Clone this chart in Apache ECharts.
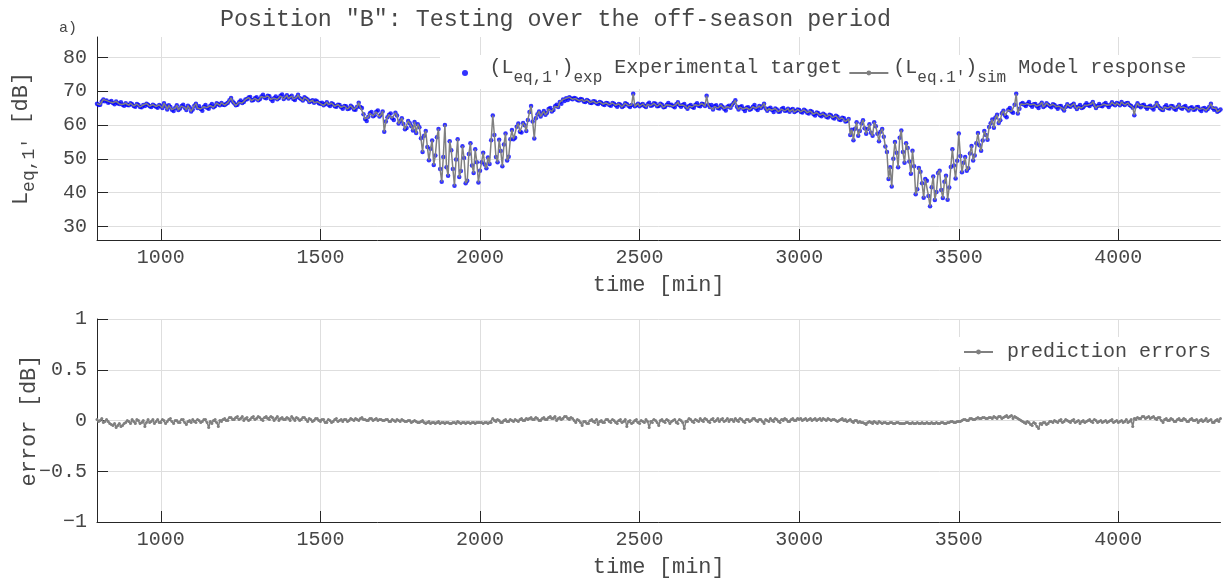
<!DOCTYPE html>
<html>
<head>
<meta charset="utf-8">
<script src="https://cdn.jsdelivr.net/npm/echarts@6/dist/echarts.min.js"></script>
<style>
  html, body { margin: 0; padding: 0; background: #ffffff; }
  #chart { width: 1226px; height: 583px; }
</style>
</head>
<body>
<div id="chart"></div>
<script>
// Sampling grid of the record (minutes)
const START_MIN = 800;
const STEP_MIN = 5;

// Tick positions
const timeTicks = [1000, 1500, 2000, 2500, 3000, 3500, 4000];
const levelTicks = [30, 40, 50, 60, 70, 80];
const errorTicks = [-1, -0.5, 0, 0.5, 1];

// Measured 1-minute equivalent level, one value every 5 min from 800 to 4320 min [dB]
// (each row covers 100 min)
const expLevels = [
  66.3,65.9, 66.0,66.9, 67.5,67.0, 67.2,66.6, 66.8,67.1, 66.5,66.1, 66.9,66.4, 66.2,66.7, 66.0,65.7, 66.4,65.9,
  65.8,66.4, 66.1,65.6, 65.4,66.2, 65.9,65.3, 65.2,65.9, 65.6,66.3, 66.0,65.5, 65.3,66.0, 65.7,65.4, 65.1,65.9,
  65.5,65.0, 66.4,65.6, 64.6,65.8, 65.3,64.5, 64.1,65.0, 65.8,64.4, 64.9,65.6, 66.0,65.1, 64.4,65.7, 65.2,64.0,
  64.6,65.7, 66.3,65.0, 65.5,64.7, 64.2,65.4, 65.9,65.1, 64.8,65.7, 66.2,65.2, 65.6,66.4, 66.1,65.8, 66.5,66.0,
  65.9,66.3, 66.6,67.3, 68.0,66.9, 66.4,65.8, 66.0,66.7, 67.2,66.5, 66.8,67.5, 67.6,68.1, 68.3,67.2, 67.4,67.9,
  68.2,67.3, 67.6,68.4, 68.9,68.1, 67.9,68.6, 68.5,67.6, 67.1,67.9, 68.4,67.6, 68.0,68.6, 69.0,67.7, 68.2,68.8,
  67.8,68.3, 68.6,67.7, 67.4,68.2, 68.9,68.0, 67.6,67.2, 68.2,67.8, 67.5,66.8, 67.0,67.3, 66.6,67.2, 66.9,66.4,
  66.3,66.6, 65.8,66.2, 66.7,66.0, 65.6,66.4, 66.1,65.5, 65.4,66.0, 65.9,65.2, 64.8,65.6, 65.5,64.7, 64.9,65.7,
  65.2,64.6, 64.5,65.4, 66.6,65.3, 65.0,63.2, 61.8,61.2, 62.4,63.5, 63.8,62.6, 62.9,63.9, 64.3,62.5, 63.1,64.0,
  58.0,61.0, 62.3,63.0, 63.4,62.0, 61.5,63.6, 62.8,60.4, 61.2,62.0, 60.3,58.7, 59.1,61.2, 60.5,59.6, 58.4,60.9,
  57.6,60.2, 59.3,56.1, 52.0,56.8, 58.2,53.5, 49.6,53.0, 55.4,48.2, 51.0,56.4, 58.8,47.0, 43.2,50.5, 60.0,47.5,
  45.0,55.2, 52.5,47.0, 42.0,49.8, 55.8,44.6, 46.4,53.7, 50.2,42.8, 43.5,51.4, 54.6,48.0, 45.8,52.8, 49.0,43.0,
  46.5,49.0, 51.8,48.3, 47.2,50.4, 48.5,55.5, 62.8,57.0, 50.5,49.0, 55.6,52.3, 47.8,54.2, 57.5,49.5, 50.6,55.8,
  58.5,55.8, 56.2,59.5, 60.4,58.0, 57.8,60.6, 59.9,58.2, 61.5,63.8, 65.6,61.0, 56.0,62.0, 63.2,64.0, 62.5,63.4,
  64.1,63.0, 63.6,64.7, 65.0,64.0, 64.4,65.5, 66.0,65.3, 66.8,66.3, 67.5,67.1, 67.9,67.4, 68.2,67.8, 67.6,68.0,
  67.8,67.4, 67.2,67.7, 67.5,66.9, 66.8,67.4, 67.1,66.6, 66.5,67.0, 66.9,66.4, 66.2,66.8, 66.6,66.1, 65.9,66.5,
  66.4,65.9, 65.7,66.5, 66.3,65.8, 65.4,66.2, 66.0,65.3, 65.6,66.4, 66.2,65.7, 65.3,65.9, 69.2,65.5, 65.8,66.3,
  65.5,66.0, 66.2,65.6, 65.3,66.1, 66.6,65.7, 65.8,66.4, 66.3,65.5, 65.6,66.3, 66.0,65.2, 65.4,66.0, 66.5,65.8,
  66.0,65.5, 65.2,66.1, 66.7,65.8, 65.4,65.9, 66.2,65.4, 64.8,65.6, 65.9,65.3, 65.1,66.0, 66.4,65.7, 65.5,66.3,
  66.1,65.6, 68.6,66.0, 65.3,65.9, 64.6,65.5, 65.8,65.0, 64.9,65.8, 65.4,64.8, 64.3,65.4, 65.7,65.1, 66.0,66.6,
  67.3,65.4, 64.6,65.3, 65.5,64.7, 64.1,65.1, 65.2,64.5, 64.8,65.4, 65.9,64.9, 64.4,65.6, 65.0,65.5, 66.3,64.9,
  64.2,64.8, 65.1,64.4, 63.8,64.9, 64.6,63.9, 64.0,64.7, 65.0,64.2, 64.3,64.8, 63.9,64.5, 64.7,63.8, 64.1,64.6,
  64.4,63.9, 63.7,64.5, 64.2,63.6, 63.4,64.1, 63.9,63.2, 62.8,63.7, 63.5,62.9, 62.6,63.3, 63.0,62.4, 62.2,63.0,
  62.8,62.2, 61.9,62.7, 62.4,61.6, 61.5,62.1, 62.0,61.0, 61.2,61.8, 57.0,58.6, 55.5,58.9, 60.8,56.8, 58.2,60.4,
  61.4,59.0, 57.4,58.8, 60.2,57.7, 56.8,60.8, 59.6,57.4, 55.2,58.0, 58.8,56.5, 53.6,52.0, 44.0,47.5, 41.8,50.0,
  55.0,51.8, 47.5,56.2, 58.4,52.0, 48.8,54.6, 53.2,49.2, 45.6,52.4, 47.8,39.5, 41.0,47.3, 46.2,42.8, 38.5,44.0,
  43.5,39.0, 36.0,41.6, 44.8,37.8, 40.2,45.8, 46.5,40.8, 38.4,43.2, 45.0,37.9, 41.5,47.6, 52.8,48.0, 44.2,49.4,
  57.5,50.8, 46.0,48.8, 50.5,46.5, 47.2,51.6, 53.8,49.5, 51.0,54.6, 57.6,54.0, 52.4,55.4, 58.2,57.0, 55.6,59.4,
  60.5,61.6, 59.2,62.2, 63.0,60.6, 61.4,63.5, 64.2,62.8, 62.3,64.5, 65.0,64.0, 63.6,66.0, 69.2,63.4, 64.8,66.2,
  66.5,66.0, 65.6,66.3, 66.8,65.9, 65.4,66.1, 66.2,65.5, 65.0,66.0, 66.6,65.3, 65.7,66.4, 66.0,65.6, 65.2,66.1,
  65.9,65.4, 64.8,65.5, 65.6,64.9, 64.3,65.3, 66.1,65.6, 65.4,65.9, 66.3,65.4, 64.7,65.4, 65.9,65.0, 65.2,65.8,
  66.4,65.9, 65.6,66.2, 66.8,65.8, 65.0,65.6, 66.2,65.7, 65.5,66.1, 66.5,65.8, 65.3,66.0, 66.7,66.1, 65.8,66.5,
  66.3,65.8, 66.8,66.2, 65.9,66.4, 66.5,65.9, 65.6,65.1, 62.9,65.5, 66.4,65.7, 65.2,65.8, 66.0,65.3, 64.8,65.4,
  65.7,65.1, 64.6,65.5, 66.5,65.6, 65.0,64.6, 64.4,65.3, 65.8,65.0, 64.9,65.6, 65.5,64.8, 64.5,65.3, 66.0,65.1,
  64.8,65.3, 65.6,64.9, 64.3,65.0, 65.2,64.5, 64.6,65.2, 65.3,64.6, 64.1,64.9, 65.0,64.3, 64.7,65.4, 66.3,65.0,
  64.5,64.9, 63.9,64.2, 64.6
];

// Prediction error (target minus model) at the same instants [dB]
const predErrors = [
   0.01,-0.01,  0.00, 0.02, -0.02,-0.01,  0.01,-0.01, -0.03,-0.04, -0.05,-0.03, -0.07,-0.05, -0.03,-0.06, -0.05,-0.03, -0.02, 0.00,
  -0.01,-0.03,  0.01,-0.01, -0.03, 0.01,  0.00,-0.03, -0.02, 0.00, -0.06,-0.02,  0.01,-0.02, -0.01, 0.01, -0.03,-0.01,  0.01,-0.02,
  -0.02, 0.01,  0.00,-0.03, -0.01, 0.01,  0.02,-0.01, -0.03, 0.00,  0.00,-0.02, -0.02, 0.01,  0.01,-0.02, -0.04,-0.01,  0.00,-0.02,
   0.01,-0.01, -0.02, 0.01,  0.00,-0.02, -0.01, 0.01,  0.01,-0.02, -0.07,-0.01, -0.03, 0.00,  0.01,-0.02, -0.06, 0.00, -0.01, 0.01,
   0.02, 0.00,  0.00, 0.03,  0.03, 0.01,  0.01, 0.03,  0.04, 0.01,  0.02, 0.04,  0.00, 0.02,  0.03, 0.00,  0.01, 0.03,  0.04, 0.01,
   0.02, 0.04,  0.03, 0.01,  0.00, 0.03,  0.04, 0.02,  0.01, 0.04,  0.03, 0.00,  0.02, 0.04,  0.00, 0.02,  0.03, 0.01,  0.01, 0.03,
   0.02, 0.00,  0.04, 0.02,  0.00, 0.03,  0.02, 0.00,  0.01, 0.03,  0.03, 0.01, -0.01, 0.02,  0.01,-0.01,  0.00, 0.02,  0.02, 0.00,
  -0.01, 0.01,  0.01,-0.02, -0.02, 0.01,  0.00,-0.02, -0.01, 0.01,  0.02,-0.01,  0.00, 0.01, -0.01, 0.01,  0.01,-0.01,  0.00, 0.02,
   0.01, 0.00,  0.02, 0.01,  0.00, 0.02,  0.03, 0.01,  0.01, 0.00,  0.00, 0.02,  0.02, 0.00,  0.01, 0.02,  0.00, 0.01,  0.01, 0.00,
   0.00, 0.01,  0.01,-0.01, -0.01, 0.01,  0.00,-0.01,  0.01, 0.00, -0.01, 0.01,  0.00,-0.01, -0.01, 0.00,  0.00,-0.02, -0.01, 0.00,
  -0.01,-0.02, -0.02,-0.01,  0.00,-0.02, -0.03,-0.02, -0.01,-0.03, -0.02,-0.02, -0.03,-0.02, -0.01,-0.03, -0.02,-0.02, -0.03,-0.02,
  -0.02,-0.03, -0.03,-0.02, -0.02,-0.03, -0.01,-0.02, -0.03,-0.02, -0.02,-0.03, -0.02,-0.02, -0.03,-0.02, -0.02,-0.03, -0.02,-0.02,
  -0.02,-0.02, -0.03,-0.02, -0.02,-0.03, -0.02,-0.02,  0.02, 0.00, -0.01, 0.01,  0.00,-0.02, -0.02, 0.00,  0.01,-0.01, -0.01, 0.01,
   0.00,-0.01,  0.01, 0.00, -0.01, 0.01,  0.02, 0.00,  0.00, 0.02,  0.01, 0.02,  0.03, 0.01,  0.01, 0.03,  0.02, 0.00,  0.00, 0.02,
   0.03, 0.01,  0.01, 0.03,  0.04, 0.02,  0.02, 0.04,  0.00, 0.02,  0.03, 0.01,  0.02, 0.04,  0.04, 0.02,  0.01, 0.03,  0.02, 0.00,
  -0.02, 0.01,  0.00,-0.02, -0.05,-0.01, -0.01,-0.03, -0.03, 0.00,  0.01,-0.01, -0.02, 0.01, -0.04,-0.01,  0.00,-0.02, -0.02, 0.01,
   0.01,-0.01, -0.02, 0.01,  0.00,-0.02, -0.03, 0.00,  0.01,-0.02, -0.01, 0.01, -0.06,-0.01,  0.00,-0.03, -0.02, 0.00,  0.01,-0.02,
  -0.03, 0.00, -0.01,-0.02,  0.01,-0.01, -0.07,-0.01, -0.02, 0.01,  0.00,-0.02, -0.05, 0.00,  0.01,-0.01, -0.02, 0.01,  0.00,-0.03,
  -0.01, 0.00,  0.01,-0.02, -0.03, 0.01,  0.00,-0.02, -0.08,-0.01, -0.01, 0.02,  0.01,-0.01, -0.02, 0.01,  0.00,-0.01,  0.02, 0.00,
  -0.01, 0.02,  0.01,-0.01, -0.02, 0.01,  0.02,-0.01,  0.00, 0.02, -0.01, 0.01,  0.02,-0.01,  0.00, 0.02, -0.01, 0.01,  0.01,-0.01,
   0.02, 0.00, -0.01, 0.02,  0.01,-0.01, -0.02, 0.01,  0.01,-0.01,  0.00, 0.02,  0.02, 0.00, -0.01, 0.01,  0.01,-0.01, -0.03, 0.01,
   0.00,-0.01,  0.02, 0.00, -0.01, 0.02,  0.01,-0.01, -0.02, 0.01,  0.00, 0.02,  0.01,-0.01, -0.01, 0.01,  0.02, 0.00,  0.00, 0.02,
   0.01, 0.02,  0.00, 0.01,  0.02, 0.00,  0.01, 0.02,  0.00, 0.01,  0.02, 0.00,  0.01, 0.02,  0.00, 0.02,  0.01, 0.00,  0.02, 0.01,
   0.00, 0.01,  0.01, 0.00, -0.01, 0.00,  0.01, 0.02,  0.00, 0.01, -0.01, 0.00,  0.01,-0.01, -0.02, 0.00,  0.00,-0.02, -0.01,-0.02,
  -0.02,-0.03, -0.04,-0.02, -0.01,-0.02, -0.03,-0.01, -0.02,-0.03, -0.01,-0.02, -0.03,-0.02, -0.02,-0.03, -0.03,-0.02, -0.02,-0.03,
  -0.03,-0.02, -0.02,-0.03, -0.03,-0.03, -0.03,-0.02, -0.02,-0.03, -0.03,-0.02, -0.03,-0.03, -0.02,-0.03, -0.03,-0.02, -0.03,-0.03,
  -0.02,-0.03, -0.03,-0.02, -0.03,-0.03, -0.02,-0.03, -0.03,-0.02, -0.02,-0.03, -0.03,-0.02, -0.02,-0.01, -0.01,-0.02, -0.02,-0.01,
  -0.01,-0.01,  0.00, 0.01,  0.01, 0.00,  0.00, 0.02,  0.02, 0.01,  0.01, 0.02,  0.03, 0.02,  0.02, 0.03,  0.03, 0.02,  0.02, 0.03,
   0.03, 0.02,  0.04, 0.03,  0.02, 0.04,  0.04, 0.02,  0.03, 0.04,  0.05, 0.03,  0.04, 0.05,  0.02, 0.04,  0.03, 0.02,  0.01, 0.00,
  -0.01,-0.02, -0.03,-0.01, -0.02,-0.04, -0.05,-0.02, -0.03,-0.06, -0.08,-0.03, -0.04,-0.02, -0.02,-0.04, -0.03,-0.01, -0.01,-0.02,
   0.00,-0.01, -0.02, 0.00,  0.01,-0.02, -0.01, 0.01,  0.00,-0.01, -0.02, 0.00,  0.01,-0.02, -0.01, 0.00, -0.03,-0.01,  0.00,-0.02,
  -0.01, 0.00,  0.01,-0.01, -0.02, 0.01,  0.00,-0.02, -0.01, 0.00, -0.02,-0.01,  0.00,-0.02, -0.01, 0.00,  0.01,-0.02, -0.01, 0.00,
  -0.02,-0.01,  0.00,-0.02, -0.01, 0.01, -0.02,-0.01,  0.01,-0.06,  0.02, 0.01,  0.03, 0.02,  0.02, 0.04,  0.04, 0.02,  0.03, 0.04,
   0.02, 0.03,  0.04, 0.02,  0.01, 0.03,  0.03, 0.00, -0.02, 0.01,  0.02, 0.00,  0.00, 0.02,  0.01,-0.01, -0.01, 0.01,  0.02, 0.00,
   0.00, 0.02,  0.01,-0.01, -0.01, 0.01,  0.02, 0.00,  0.00, 0.01, -0.02, 0.00,  0.01,-0.01,  0.00, 0.02, -0.01, 0.00,  0.01,-0.02,
  -0.02, 0.00,  0.01,-0.01,  0.02
];

// Time stamps and derived traces
const timeMin = expLevels.map((_, i) => START_MIN + i * STEP_MIN);
const expPoints = expLevels.map((v, i) => [timeMin[i], v]);
// model response = target - prediction error
const simPoints = expLevels.map((v, i) => [timeMin[i], +(v - predErrors[i]).toFixed(3)]);
const errPoints = predErrors.map((v, i) => [START_MIN + i * STEP_MIN, v]);

const FONT = '"Liberation Mono", "DejaVu Sans Mono", monospace';
const TXT = '#474747';
const AXIS = '#262626';
const GRID = '#dedede';
const GREY = '#808080';
const BLUE = '#0000ff';

function fmtNum(v) { return String(v).replace('-', '\u2212'); }

function xAxisFor(gridIndex) {
  return {
    type: 'value', gridIndex, min: 800, max: 4320,
    name: 'time [min]', nameLocation: 'middle', nameGap: 34, nameMoveOverlap: false,
    nameTextStyle: { fontFamily: FONT, fontSize: 22, color: TXT },
    axisLine: { show: true, onZero: false, lineStyle: { color: AXIS, width: 1 } },
    axisTick: { show: true, inside: true, length: 11, customValues: timeTicks, lineStyle: { color: AXIS } },
    axisLabel: { customValues: timeTicks, formatter: fmtNum, fontFamily: FONT, fontSize: 20, color: TXT, margin: 8 },
    splitLine: { show: true, lineStyle: { color: GRID, width: 1 } }
  };
}

const nameRich = {
  n: { fontFamily: FONT, fontSize: 22, color: TXT, lineHeight: 30, verticalAlign: 'top' },
  s: { fontFamily: FONT, fontSize: 18, color: TXT, verticalAlign: 'top', padding: [10, 0, 0, 0] }
};
const legendRich = {
  n: { fontFamily: FONT, fontSize: 20, color: TXT, lineHeight: 30, verticalAlign: 'top' },
  s: { fontFamily: FONT, fontSize: 16, color: TXT, verticalAlign: 'top', padding: [12, 0, 0, 0] }
};

const option = {
  animation: false,
  backgroundColor: '#ffffff',
  title: [
    { text: 'Position "B": Testing over the off-season period', left: 215, top: 3,
      textStyle: { fontFamily: FONT, fontSize: 23.3, fontWeight: 'normal', color: TXT } },
    { text: 'a)', left: 54, top: 16,
      textStyle: { fontFamily: FONT, fontSize: 15, fontWeight: 'normal', color: TXT } }
  ],
  grid: [
    { left: 97, right: 5.5, top: 37, height: 203 },
    { left: 97, right: 5.5, top: 319, height: 203 }
  ],
  xAxis: [xAxisFor(0), xAxisFor(1)],
  yAxis: [
    {
      type: 'value', gridIndex: 0, min: 26, max: 86,
      name: '{n|L}{s|eq,1\'}{n| [dB]}', nameLocation: 'middle', nameRotate: 90, nameGap: 57,
      nameMoveOverlap: false,
      nameTextStyle: { rich: nameRich },
      axisLine: { show: true, lineStyle: { color: AXIS, width: 1 } },
      axisTick: { show: true, inside: true, length: 11, customValues: levelTicks, lineStyle: { color: AXIS } },
      axisLabel: { customValues: levelTicks, formatter: fmtNum, fontFamily: FONT, fontSize: 20, color: TXT, margin: 10 },
      splitLine: { show: true, lineStyle: { color: GRID, width: 1 } }
    },
    {
      type: 'value', gridIndex: 1, min: -1, max: 1, interval: 0.5,
      name: 'error [dB]', nameLocation: 'middle', nameRotate: 90, nameGap: 57,
      nameMoveOverlap: false,
      nameTextStyle: { fontFamily: FONT, fontSize: 22, color: TXT },
      axisLine: { show: true, lineStyle: { color: AXIS, width: 1 } },
      axisTick: { show: true, inside: true, length: 11, customValues: errorTicks, lineStyle: { color: AXIS } },
      axisLabel: { customValues: errorTicks, formatter: fmtNum, fontFamily: FONT, fontSize: 20, color: TXT, margin: 10 },
      splitLine: { show: true, lineStyle: { color: GRID, width: 1 } }
    }
  ],
  legend: [
    {
      data: [{ name: 'exp', icon: 'circle' }, { name: 'sim' }],
      left: 440, top: 55, orient: 'horizontal',
      padding: [3, 6, 3, 22], itemGap: 6, itemWidth: 39, itemHeight: 6,
      backgroundColor: '#ffffff', borderWidth: 0, selectedMode: false, z: 5,
      formatter: name => name === 'exp'
        ? '{n|(L}{s|eq,1\'}{n|)}{s|exp}{n| Experimental target}'
        : '{n|(L}{s|eq.1\'}{n|)}{s|sim}{n| Model response}',
      textStyle: { rich: legendRich }
    },
    {
      data: ['prediction errors'],
      left: 958, top: 337, padding: [5, 6, 5, 5],
      itemWidth: 29, itemHeight: 6, itemGap: 0,
      backgroundColor: '#ffffff', borderWidth: 0, selectedMode: false, z: 5,
      textStyle: { fontFamily: FONT, fontSize: 20, color: TXT, padding: [0, 0, 0, 9] }
    }
  ],
  series: [
    {
      name: 'exp', type: 'scatter', xAxisIndex: 0, yAxisIndex: 0,
      data: expPoints, symbol: 'circle', symbolSize: 4.5,
      itemStyle: { color: BLUE }, z: 2
    },
    {
      name: 'sim', type: 'line', xAxisIndex: 0, yAxisIndex: 0,
      data: simPoints, showSymbol: false, symbol: 'none',
      lineStyle: { color: GREY, width: 1.5 }, itemStyle: { color: GREY }, z: 3
    },
    {
      name: 'prediction errors', type: 'line', xAxisIndex: 1, yAxisIndex: 1,
      data: errPoints, showSymbol: true, symbol: 'circle', symbolSize: 3,
      lineStyle: { color: GREY, width: 1.5 }, itemStyle: { color: GREY }, z: 3
    }
  ]
};

const chart = echarts.init(document.getElementById('chart'), null, { renderer: 'canvas' });
chart.setOption(option);
</script>
</body>
</html>
